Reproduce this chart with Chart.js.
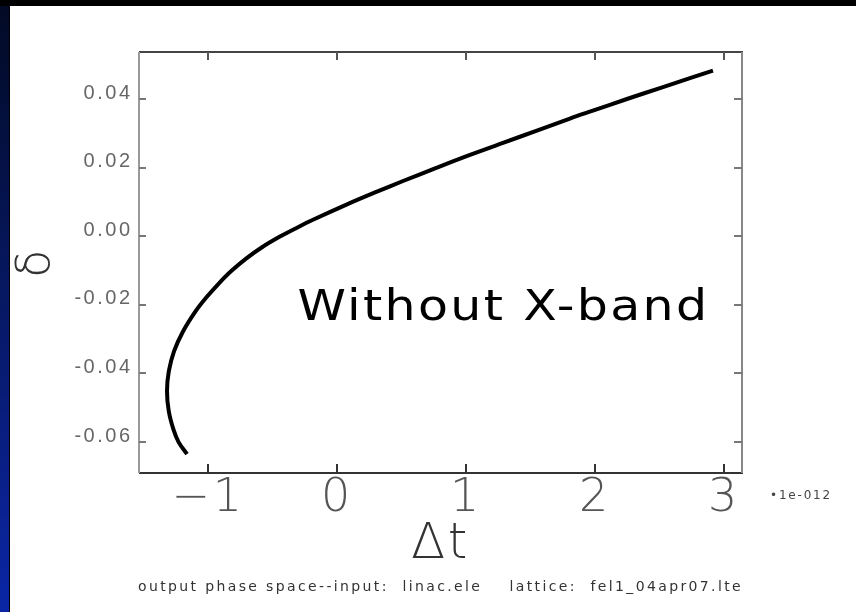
<!DOCTYPE html>
<html lang="en">
<head>
<meta charset="UTF-8">
<title>Output phase space</title>
<script src="https://cdn.jsdelivr.net/npm/chart.js"></script>
<style>
  body { margin: 0; width: 856px; height: 612px; background: #000; position: relative; overflow: hidden; }
  .side { position: absolute; left: 0; top: 6px; width: 9px; height: 606px; background: linear-gradient(#020a24, #0b26a6); }
  .panel { position: absolute; left: 10px; top: 6px; width: 846px; height: 606px; background: #fff; }
</style>
</head>
<body>
<div class="side"></div>
<div class="panel"><canvas id="phase" width="846" height="606"></canvas></div>
<script>
// time offset (units of 1e-12 s) and relative energy deviation along the bunch
const tVals = [-1.163, -1.228, -1.268, -1.304, -1.318, -1.304, -1.263, -1.193, -1.097, -1.012,
               -0.915, -0.822, -0.705, -0.581, -0.442, -0.310, -0.186, 0.078, 0.310, 0.512,
               0.775, 1.031, 1.287, 1.550, 1.806, 1.984, 2.248, 2.504, 2.760, 2.915];
const deltaVals = [-0.0635, -0.0600, -0.0563, -0.0510, -0.0452, -0.0394, -0.0335, -0.0277, -0.0219, -0.0178,
                   -0.0137, -0.0102, -0.0065, -0.0032, -0.0001, 0.0025, 0.0048, 0.0093, 0.0130, 0.0161,
                   0.0200, 0.0237, 0.0272, 0.0308, 0.0343, 0.0366, 0.0400, 0.0432, 0.0464, 0.0483];

const xTicks = [-1, 0, 1, 2, 3];
const xTickLabels = ['\u22121', '0', '1', '2', '3'];
const yTicks = [-0.06, -0.04, -0.02, 0, 0.02, 0.04];
const yTickLabels = ['-0.06', '-0.04', '-0.02', '0.00', '0.02', '0.04'];

const noteText = 'Without X-band';
const unitText = '\u20221e-012';
const footerText = 'output phase space--input:  linac.ele    lattice:  fel1_04apr07.lte';

const points = tVals.map((t, i) => ({ x: t, y: deltaVals[i] }));

// spaced text helper: stretches letter spacing so the string fills a given width
function spacedText(ctx, text, x, y, width) {
  ctx.letterSpacing = '0px';
  const w = ctx.measureText(text).width;
  const sp = Math.max(0, (width - w) / text.length);
  ctx.letterSpacing = sp + 'px';
  ctx.textAlign = 'left';
  ctx.fillText(text, x, y);
  ctx.letterSpacing = '0px';
}

const framePlugin = {
  id: 'frame',
  beforeDraw(chart) {
    chart.ctx.letterSpacing = '2.5px';
  },
  afterDraw(chart) {
    const { ctx, chartArea: a, scales: { x, y } } = chart;
    ctx.save();
    ctx.lineWidth = 2;
    const line = (col, x1, y1, x2, y2) => {
      ctx.strokeStyle = col;
      ctx.beginPath();
      ctx.moveTo(x1, y1);
      ctx.lineTo(x2, y2);
      ctx.stroke();
    };
    // box edges
    line('#444', a.left, a.top, a.right + 1, a.top);
    line('#333', a.left, a.bottom, a.right + 1, a.bottom);
    line('#999', a.left, a.top, a.left, a.bottom);
    line('#888', a.right, a.top, a.right, a.bottom);
    // inward ticks
    xTicks.forEach(v => {
      const px = Math.round(x.getPixelForValue(v));
      line('#333', px, a.bottom, px, a.bottom - 9);
      line('#555', px, a.top, px, a.top + 8);
    });
    yTicks.forEach(v => {
      const py = Math.round(y.getPixelForValue(v));
      line('#777', a.left, py, a.left + 7, py);
      line('#777', a.right, py, a.right - 8, py);
    });

    // annotation, widened to the label's drawn extent
    ctx.textBaseline = 'middle';
    ctx.fillStyle = '#000';
    ctx.font = '42px "DejaVu Sans", sans-serif';
    ctx.letterSpacing = '2px';
    const nw = ctx.measureText(noteText).width;
    const cx = x.getPixelForValue(1.29), cy = y.getPixelForValue(-0.0212);
    ctx.save();
    ctx.translate(cx - 206, cy);
    ctx.scale(412 / nw, 1);
    ctx.textAlign = 'left';
    ctx.fillText(noteText, 0, 0);
    ctx.restore();

    ctx.fillStyle = '#444';
    ctx.font = '12px "DejaVu Sans", sans-serif';
    spacedText(ctx, unitText, 760, 490, 62);

    ctx.fillStyle = '#333';
    ctx.font = '14px "DejaVu Sans", sans-serif';
    spacedText(ctx, footerText, 128, 581, 605);
    ctx.restore();
  }
};

new Chart(document.getElementById('phase'), {
  type: 'scatter',
  data: {
    datasets: [{
      data: points,
      showLine: true,
      borderColor: '#000',
      borderWidth: 4,
      pointRadius: 0,
      tension: 0.35
    }]
  },
  options: {
    responsive: false,
    animation: false,
    layout: { padding: { left: 0, top: 46, right: 114, bottom: 0 } },
    plugins: { legend: { display: false }, tooltip: { enabled: false } },
    scales: {
      x: {
        type: 'linear',
        min: -1.535,
        max: 3.14,
        afterFit: s => { s.height = 139; },
        afterBuildTicks: s => { s.ticks = xTicks.map(v => ({ value: v })); },
        grid: { display: false, drawTicks: false },
        border: { display: false },
        ticks: {
          padding: 3,
          color: '#555',
          font: { family: '"DejaVu Sans", sans-serif', size: 46, weight: 200, lineHeight: 1 },
          maxRotation: 0,
          callback: (v, i) => xTickLabels[i]
        },
        title: {
          display: true,
          text: '\u0394t',
          color: '#333',
          padding: { top: 0, bottom: 42 },
          font: { family: '"DejaVu Sans", sans-serif', size: 50, weight: 200, lineHeight: 1 }
        }
      },
      y: {
        type: 'linear',
        min: -0.069,
        max: 0.0537,
        afterFit: s => { s.width = 129; },
        afterBuildTicks: s => { s.ticks = yTicks.map(v => ({ value: v })); },
        grid: { display: false, drawTicks: false },
        border: { display: false },
        ticks: {
          padding: 6.5,
          labelOffset: -6,
          color: '#666',
          font: { family: '"Liberation Sans", sans-serif', size: 20 },
          callback: (v, i) => yTickLabels[i]
        },
        title: {
          display: true,
          text: '\u03b4',
          color: '#333',
          padding: { top: 4, bottom: 0 },
          font: { family: '"DejaVu Sans", sans-serif', size: 46, weight: 200, lineHeight: 1 }
        }
      }
    }
  },
  plugins: [framePlugin]
});
</script>
</body>
</html>
